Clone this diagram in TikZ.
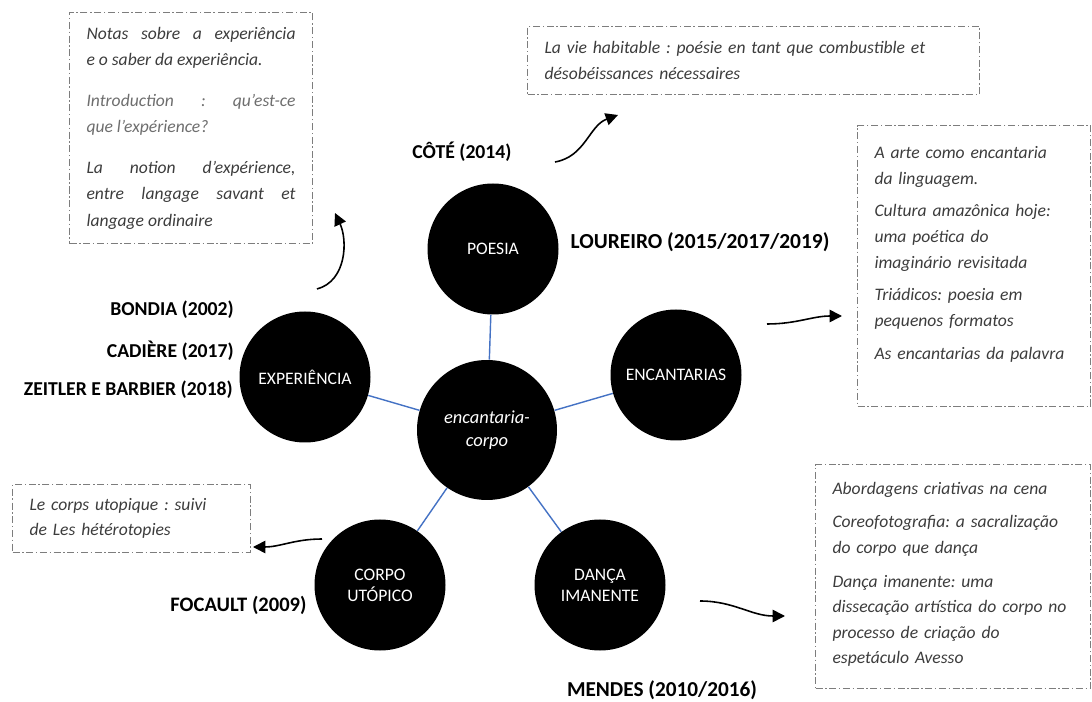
\documentclass[tikz,border=0pt]{standalone}
\usepackage{fontspec}
\setmainfont{Carlito}
\usetikzlibrary{arrows.meta}

\definecolor{linkblue}{RGB}{68,114,196}
\definecolor{boxgray}{RGB}{125,125,125}
\definecolor{txtgray}{RGB}{60,60,60}
\definecolor{softgray}{RGB}{110,110,110}

\newcommand{\padlow}[1]{\rule[-#1]{0pt}{0pt}}

\tikzset{
  theme/.style={circle,fill=black,text=white,minimum size=2.62cm,inner sep=0pt,align=center,font=\fontsize{10}{12}\selectfont},
  core/.style={theme,minimum size=2.8cm,font=\fontsize{10.5}{13}\selectfont\itshape},
  author/.style={font=\fontsize{11.2}{13}\selectfont\bfseries},
  refbox/.style={draw=boxgray,line width=0.6pt,dash pattern=on 4pt off 1.5pt on 0.8pt off 1.5pt,anchor=north west,text=txtgray,inner xsep=0.34cm,inner ysep=0.15cm,font=\fontsize{10}{14.6}\selectfont\itshape\frenchspacing},
  link/.style={draw=linkblue,line width=0.8pt},
  pointer/.style={line width=0.9pt,-{Triangle[length=7pt,width=7pt]}},
}

\begin{document}
\begin{tikzpicture}

    \useasboundingbox (0,0) rectangle (21.84,14.02);

    % themes
    \node[core] (centre) at (9.74,5.42) {encantaria-\\corpo};
    \node[theme] (poesia) at (9.86,9.04) {POESIA};
    \node[theme] (exper) at (6.10,6.48) {EXPERIÊNCIA};
    \node[theme] (encant) at (13.52,6.52) {ENCANTARIAS};
    \node[theme] (corpo) at (7.60,2.32) {CORPO\\UTÓPICO};
    \node[theme] (danca) at (12.00,2.32) {DANÇA\\IMANENTE};

    \draw[link] (centre) -- (poesia);
    \draw[link] (centre) -- (exper);
    \draw[link] (centre) -- (encant);
    \draw[link] (centre) -- (corpo);
    \draw[link] (centre) -- (danca);

    % authors
    \node[author] (cote) at (9.24,10.98) {CÔTÉ (2014)};
    \node[author,font=\fontsize{12.2}{14}\selectfont\bfseries] (loureiro) at (14.00,9.18) {LOUREIRO (2015/2017/2019)};
    \node[author,anchor=east] (bondia) at (4.80,7.82) {BONDIA (2002)};
    \node[author,anchor=east] (cadiere) at (4.80,7.00) {CADIÈRE (2017)};
    \node[author,anchor=east] (zeitler) at (4.78,6.22) {ZEITLER E BARBIER (2018)};
    \node[author,font=\fontsize{11.7}{14}\selectfont\bfseries] (focault) at (4.77,1.92) {FOCAULT (2009)};
    \node[author,font=\fontsize{12.1}{14}\selectfont\bfseries] (mendes) at (13.24,0.22) {MENDES (2010/2016)};

    % works
    \node[refbox,align=justify,text width=4.18cm,minimum height=4.62cm,font=\fontsize{10}{14.9}\selectfont\itshape\frenchspacing] (bexp) at (1.38,13.78)
      {Notas sobre a experiência\linebreak e o saber da experiência.\par\vspace{8.5pt}
       {\color{softgray}Introduction : qu'est-ce\linebreak que l'expérience?}\par\vspace{8.5pt}
       La notion d’expérience,\linebreak entre langage savant et\linebreak langage ordinaire};
    \node[refbox,align=left,text width=8.36cm,minimum height=1.36cm] (bpoe) at (10.54,13.50)
      {La vie habitable : poésie en tant que combustible et\\désobéissances nécessaires};
    \node[refbox,align=left,text width=3.98cm,minimum height=5.62cm] (benc) at (17.14,11.52)
      {A arte como encantaria\\da linguagem.\\[4pt]
       Cultura amazônica hoje:\\uma poética do\\imaginário revisitada\\[4pt]
       Triádicos: poesia em\\pequenos formatos\\[4pt]
       \mbox{As encantarias da palavra}\padlow{15pt}};
    \node[refbox,align=left,text width=4.82cm,minimum height=4.48cm] (bdan) at (16.30,4.74)
      {Abordagens criativas na cena\\[4.5pt]
       Coreofotografia: a sacralização\\do corpo que dança\\[4.5pt]
       Dança imanente: uma\\\mbox{dissecação artística do corpo no}\\processo de criação do\\espetáculo Avesso\padlow{4pt}};
    \node[refbox,align=left,text width=4.08cm,minimum height=1.36cm] (bcor) at (0.24,4.34)
      {Le corps utopique : suivi\\de Les hétérotopies};

    % pointers
    \coordinate (p1a) at (11.10,10.78);
    \coordinate (p1b) at (12.36,11.72);
    \coordinate (p2a) at (6.34,8.24);
    \coordinate (p2b) at (6.70,9.76);
    \coordinate (p3a) at (15.34,7.54);
    \coordinate (p3b) at (16.84,7.70);
    \coordinate (p4a) at (6.44,3.24);
    \coordinate (p4b) at (5.06,3.08);
    \coordinate (p5a) at (14.00,2.00);
    \coordinate (p5b) at (15.70,1.70);

    \draw[pointer] (p1a) to[out=10,in=200] (p1b);
    \draw[pointer] (p2a) to[out=15,in=-65] (p2b);
    \draw[pointer] (p3a) to[out=0,in=180] (p3b);
    \draw[pointer] (p4a) to[out=180,in=0] (p4b);
    \draw[pointer] (p5a) to[out=0,in=180] (p5b);

\end{tikzpicture}
\end{document}
